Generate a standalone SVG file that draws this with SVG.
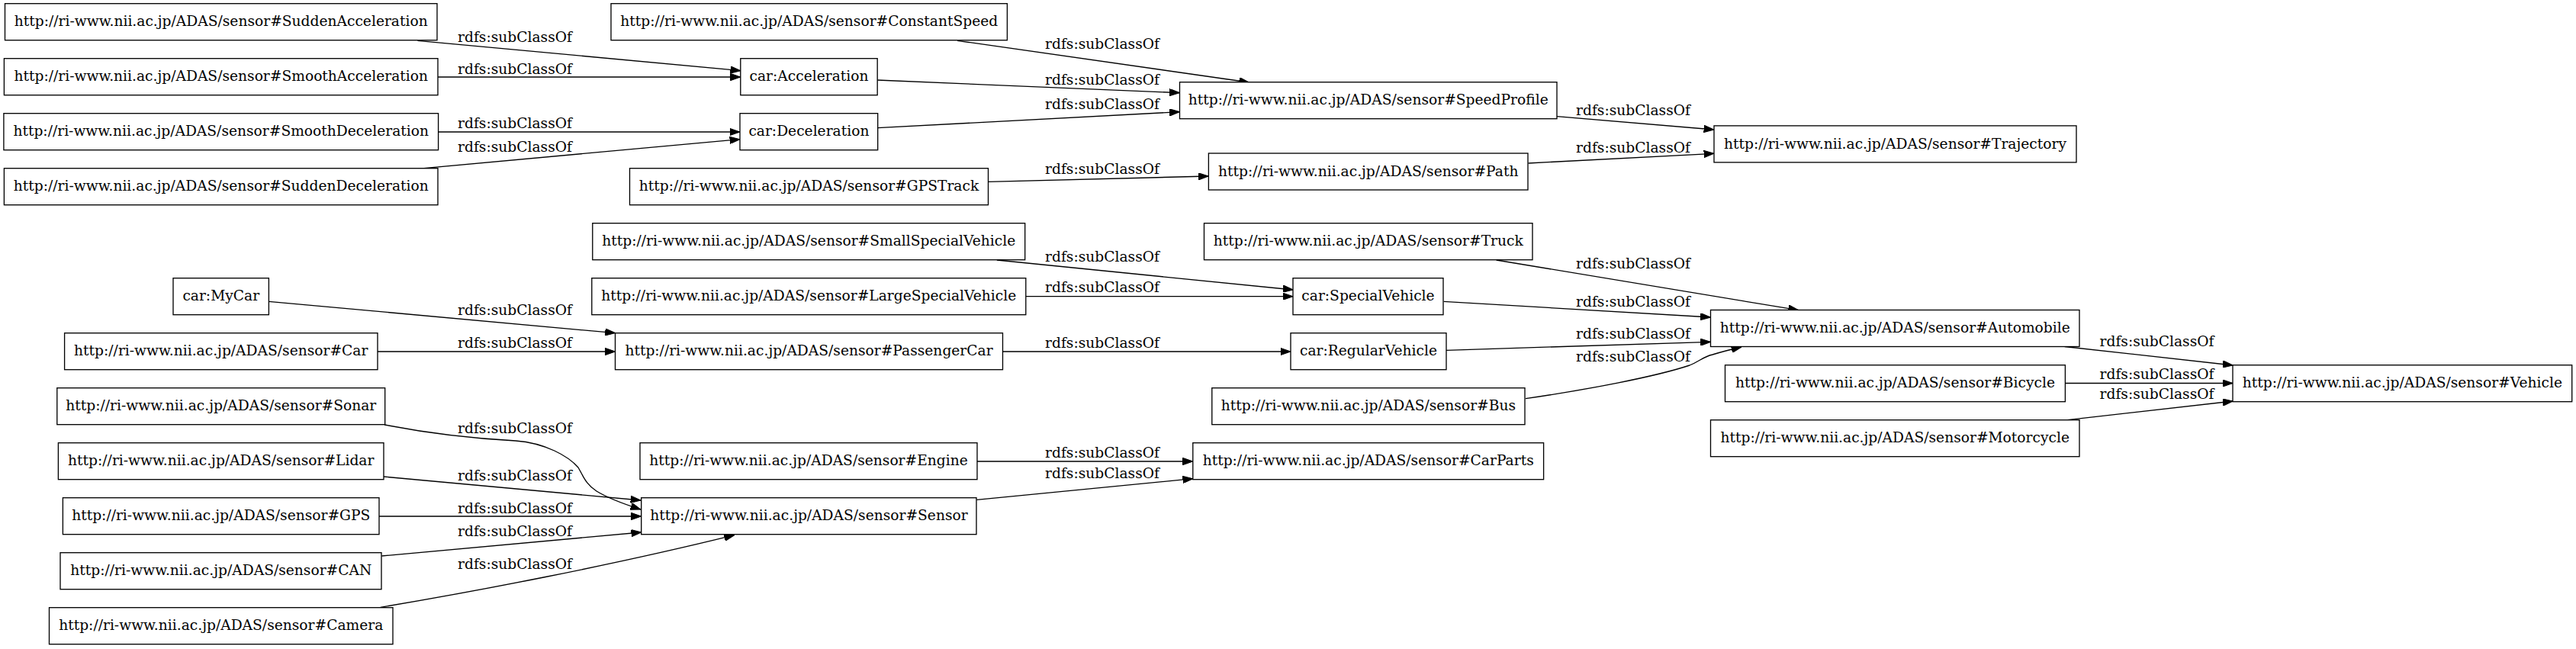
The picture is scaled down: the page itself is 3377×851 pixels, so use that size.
<svg xmlns="http://www.w3.org/2000/svg" width="3377" height="851" viewBox="0 0 3377 851">
<style>
.n rect{fill:#fff;stroke:#000;stroke-width:1.33}
text{font-family:"DejaVu Serif","Liberation Serif",serif;font-size:18.67px;fill:#000;text-anchor:middle}
.e path{fill:none;stroke:#000;stroke-width:1.33;marker-end:url(#ah)}
</style>
<defs>
<marker id="ah" viewBox="0 0 13.33 9.33" refX="13.33" refY="4.67" markerWidth="13.33" markerHeight="9.33" markerUnits="userSpaceOnUse" orient="auto">
<path d="M0,0 L13.33,4.67 L0,9.33 z" fill="#000" stroke="#000" stroke-width="1"/>
</marker>
</defs>
<rect x="0" y="0" width="3377" height="851" fill="#fff"/>
<g id="edges" class="e">
<path d="M547.5,53.3 L970.8,92.7"/>
<path d="M574,101 L970.8,101"/>
<path d="M574.6,173 L970,173"/>
<path d="M547.5,221.3 L970,182.7"/>
<path d="M1255,53.3 L1637.6,108"/>
<path d="M1150.2,105 L1546.5,121.7"/>
<path d="M1150.7,167.7 L1546.5,146.7"/>
<path d="M1295.5,238.3 L1584.4,231"/>
<path d="M2041,152.7 L2247,170"/>
<path d="M2003.5,214 L2247,201.3"/>
<path d="M1306.9,341 L1695.3,380"/>
<path d="M1344.8,388.7 L1695,388.7"/>
<path d="M1961.6,341 L2357.7,406.7"/>
<path d="M1892.7,395.3 L2242.5,416"/>
<path d="M352.4,395.3 L806.6,436.7"/>
<path d="M495,461 L806.5,461"/>
<path d="M1314.5,461 L1692,461"/>
<path d="M1896,459.3 L2242.5,448.3"/>
<path d="M2000,522.7 C2080,511 2170,494 2215,479 C2228,474 2232,468 2245,465 C2258,461 2270,458 2283,455"/>
<path d="M2706.7,454.5 L2927.3,479"/>
<path d="M2707.4,502.5 L2927,502.5"/>
<path d="M2710.4,550.7 L2927.3,526"/>
<path d="M504,557 C560,568 620,575 676,578 C715,581 745,598 758,613 C765,625 768,635 782,644 C795,652 815,660 840,668"/>
<path d="M503,625 L840,656"/>
<path d="M497,677 L840.7,677"/>
<path d="M500.4,729 L840.7,698"/>
<path d="M498.7,796.3 C620,776 800,742 962.6,701.7"/>
<path d="M1281,605 L1563.8,605"/>
<path d="M1280.3,655.3 L1563.8,627.7"/>
</g>
<g id="edge-labels">
<text x="675" y="55">rdfs:subClassOf</text>
<text x="675" y="96.7">rdfs:subClassOf</text>
<text x="675" y="168.3">rdfs:subClassOf</text>
<text x="675" y="199.3">rdfs:subClassOf</text>
<text x="675" y="413.3">rdfs:subClassOf</text>
<text x="675" y="456">rdfs:subClassOf</text>
<text x="675" y="567.7">rdfs:subClassOf</text>
<text x="675" y="630.3">rdfs:subClassOf</text>
<text x="675" y="672.7">rdfs:subClassOf</text>
<text x="675" y="702.7">rdfs:subClassOf</text>
<text x="675" y="746">rdfs:subClassOf</text>
<text x="1445" y="64.3">rdfs:subClassOf</text>
<text x="1445" y="111">rdfs:subClassOf</text>
<text x="1445" y="143.3">rdfs:subClassOf</text>
<text x="1445" y="228.3">rdfs:subClassOf</text>
<text x="1445" y="343.3">rdfs:subClassOf</text>
<text x="1445" y="383.3">rdfs:subClassOf</text>
<text x="1445" y="456">rdfs:subClassOf</text>
<text x="1445" y="600.3">rdfs:subClassOf</text>
<text x="1445" y="627">rdfs:subClassOf</text>
<text x="2141" y="151">rdfs:subClassOf</text>
<text x="2141" y="200">rdfs:subClassOf</text>
<text x="2141" y="351.7">rdfs:subClassOf</text>
<text x="2141" y="401.7">rdfs:subClassOf</text>
<text x="2141" y="444">rdfs:subClassOf</text>
<text x="2141" y="474.3">rdfs:subClassOf</text>
<text x="2827.5" y="454">rdfs:subClassOf</text>
<text x="2827.5" y="497.3">rdfs:subClassOf</text>
<text x="2827.5" y="523.3">rdfs:subClassOf</text>
</g>
<g id="n-SuddenAcceleration" class="n"><rect x="6.5" y="4.7" width="566.5" height="48"/><text x="289.75" y="34.3">http://ri-www.nii.ac.jp/ADAS/sensor#SuddenAcceleration</text></g>
<g id="n-SmoothAcceleration" class="n"><rect x="5.4" y="76.7" width="568.6" height="48"/><text x="289.75" y="106.3">http://ri-www.nii.ac.jp/ADAS/sensor#SmoothAcceleration</text></g>
<g id="n-SmoothDeceleration" class="n"><rect x="4.9" y="148.7" width="569.7" height="48"/><text x="289.75" y="178.3">http://ri-www.nii.ac.jp/ADAS/sensor#SmoothDeceleration</text></g>
<g id="n-SuddenDeceleration" class="n"><rect x="5.4" y="220.7" width="568.6" height="48"/><text x="289.75" y="250.3">http://ri-www.nii.ac.jp/ADAS/sensor#SuddenDeceleration</text></g>
<g id="n-MyCar" class="n"><rect x="227" y="364.7" width="125.4" height="48"/><text x="289.75" y="394.3">car:MyCar</text></g>
<g id="n-Car" class="n"><rect x="84.6" y="436.7" width="410.4" height="48"/><text x="289.75" y="466.3">http://ri-www.nii.ac.jp/ADAS/sensor#Car</text></g>
<g id="n-Sonar" class="n"><rect x="74.8" y="508.7" width="429.9" height="48"/><text x="289.75" y="538.3">http://ri-www.nii.ac.jp/ADAS/sensor#Sonar</text></g>
<g id="n-Lidar" class="n"><rect x="76.4" y="580.7" width="426.6" height="48"/><text x="289.75" y="610.3">http://ri-www.nii.ac.jp/ADAS/sensor#Lidar</text></g>
<g id="n-GPS" class="n"><rect x="82.4" y="652.7" width="414.6" height="48"/><text x="289.75" y="682.3">http://ri-www.nii.ac.jp/ADAS/sensor#GPS</text></g>
<g id="n-CAN" class="n"><rect x="79" y="724.7" width="421" height="48"/><text x="289.75" y="754.3">http://ri-www.nii.ac.jp/ADAS/sensor#CAN</text></g>
<g id="n-Camera" class="n"><rect x="64.5" y="796.7" width="450.5" height="48"/><text x="289.75" y="826.3">http://ri-www.nii.ac.jp/ADAS/sensor#Camera</text></g>
<g id="n-ConstantSpeed" class="n"><rect x="801" y="4.7" width="519.4" height="48"/><text x="1060.7" y="34.3">http://ri-www.nii.ac.jp/ADAS/sensor#ConstantSpeed</text></g>
<g id="n-Acceleration" class="n"><rect x="970.8" y="76.7" width="179.4" height="48"/><text x="1060.5" y="106.3">car:Acceleration</text></g>
<g id="n-Deceleration" class="n"><rect x="970" y="148.7" width="180.7" height="48"/><text x="1060.4" y="178.3">car:Deceleration</text></g>
<g id="n-GPSTrack" class="n"><rect x="825.5" y="220.7" width="470" height="48"/><text x="1060.5" y="250.3">http://ri-www.nii.ac.jp/ADAS/sensor#GPSTrack</text></g>
<g id="n-SmallSpecialVehicle" class="n"><rect x="776.8" y="292.7" width="566.9" height="48"/><text x="1060.3" y="322.3">http://ri-www.nii.ac.jp/ADAS/sensor#SmallSpecialVehicle</text></g>
<g id="n-LargeSpecialVehicle" class="n"><rect x="775.8" y="364.7" width="569" height="48"/><text x="1060.3" y="394.3">http://ri-www.nii.ac.jp/ADAS/sensor#LargeSpecialVehicle</text></g>
<g id="n-PassengerCar" class="n"><rect x="806.5" y="436.7" width="508" height="48"/><text x="1060.5" y="466.3">http://ri-www.nii.ac.jp/ADAS/sensor#PassengerCar</text></g>
<g id="n-Engine" class="n"><rect x="839" y="580.7" width="442" height="48"/><text x="1060" y="610.3">http://ri-www.nii.ac.jp/ADAS/sensor#Engine</text></g>
<g id="n-Sensor" class="n"><rect x="840.7" y="652.7" width="439.3" height="48"/><text x="1060.4" y="682.3">http://ri-www.nii.ac.jp/ADAS/sensor#Sensor</text></g>
<g id="n-SpeedProfile" class="n"><rect x="1546.5" y="107.7" width="494.5" height="48"/><text x="1793.75" y="137.3">http://ri-www.nii.ac.jp/ADAS/sensor#SpeedProfile</text></g>
<g id="n-Path" class="n"><rect x="1584.4" y="201" width="418.6" height="48"/><text x="1793.75" y="230.6">http://ri-www.nii.ac.jp/ADAS/sensor#Path</text></g>
<g id="n-Truck" class="n"><rect x="1578.5" y="292.7" width="430.5" height="48"/><text x="1793.75" y="322.3">http://ri-www.nii.ac.jp/ADAS/sensor#Truck</text></g>
<g id="n-SpecialVehicle" class="n"><rect x="1695" y="364.7" width="197" height="48"/><text x="1793.5" y="394.3">car:SpecialVehicle</text></g>
<g id="n-RegularVehicle" class="n"><rect x="1692" y="436.7" width="204" height="48"/><text x="1794" y="466.3">car:RegularVehicle</text></g>
<g id="n-Bus" class="n"><rect x="1588.8" y="508.7" width="410.2" height="48"/><text x="1793.9" y="538.3">http://ri-www.nii.ac.jp/ADAS/sensor#Bus</text></g>
<g id="n-CarParts" class="n"><rect x="1563.8" y="580.7" width="459.8" height="48"/><text x="1793.7" y="610.3">http://ri-www.nii.ac.jp/ADAS/sensor#CarParts</text></g>
<g id="n-Trajectory" class="n"><rect x="2247" y="164.9" width="475" height="48"/><text x="2484.5" y="194.5">http://ri-www.nii.ac.jp/ADAS/sensor#Trajectory</text></g>
<g id="n-Automobile" class="n"><rect x="2242.5" y="406.5" width="483.5" height="48"/><text x="2484.25" y="436.1">http://ri-www.nii.ac.jp/ADAS/sensor#Automobile</text></g>
<g id="n-Bicycle" class="n"><rect x="2261.5" y="478.7" width="445.9" height="48"/><text x="2484.45" y="508.3">http://ri-www.nii.ac.jp/ADAS/sensor#Bicycle</text></g>
<g id="n-Motorcycle" class="n"><rect x="2242.5" y="550.7" width="483.5" height="48"/><text x="2484.25" y="580.3">http://ri-www.nii.ac.jp/ADAS/sensor#Motorcycle</text></g>
<g id="n-Vehicle" class="n"><rect x="2927" y="478.7" width="444.7" height="48"/><text x="3149.35" y="508.3">http://ri-www.nii.ac.jp/ADAS/sensor#Vehicle</text></g>
</svg>
